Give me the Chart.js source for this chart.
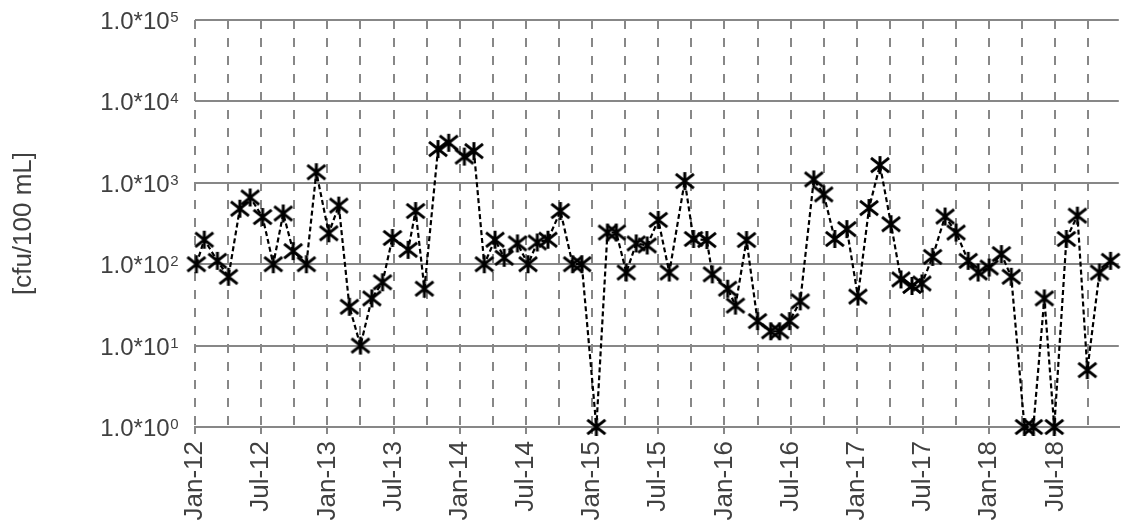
<!DOCTYPE html>
<html>
<head>
<meta charset="utf-8">
<title>Monthly bacterial counts 2012–2018</title>
<script src="https://cdn.jsdelivr.net/npm/chart.js@4/dist/chart.umd.min.js"></script>
<style>
  html, body { margin: 0; padding: 0; background: #ffffff; }
  #wrap { width: 1131px; height: 528px; position: relative; overflow: hidden; }
</style>
</head>
<body>
<div id="wrap"><canvas id="chart"></canvas></div>
<script>
// Sampling dates (ISO) and measured counts in cfu/100 mL
const sampleDates = [
  '2012-01-05','2012-01-27','2012-03-02','2012-04-02','2012-05-03','2012-06-01',
  '2012-07-05','2012-08-04','2012-09-01','2012-09-28','2012-11-04','2012-12-01',
  '2013-01-05','2013-02-02','2013-03-01','2013-04-01','2013-05-02','2013-06-01',
  '2013-06-28','2013-08-11','2013-09-01','2013-09-25','2013-11-02','2013-12-01',
  '2014-01-14','2014-02-09','2014-03-08','2014-04-07','2014-05-02','2014-06-08',
  '2014-07-07','2014-08-02','2014-09-01','2014-10-05','2014-11-08','2014-12-03',
  '2015-01-13','2015-02-12','2015-03-07','2015-04-04','2015-05-01','2015-06-01',
  '2015-07-01','2015-08-01','2015-09-13','2015-10-07','2015-11-13','2015-11-28',
  '2016-01-10','2016-02-01','2016-03-01','2016-04-01','2016-05-07','2016-06-01',
  '2016-06-28','2016-07-28','2016-09-04','2016-10-01','2016-11-01','2016-12-04',
  '2017-01-04','2017-02-04','2017-03-04','2017-04-04','2017-05-01','2017-06-01',
  '2017-06-28','2017-07-28','2017-09-01','2017-10-01','2017-11-04','2017-12-01',
  '2018-01-01','2018-02-04','2018-03-01','2018-04-07','2018-05-01','2018-06-01',
  '2018-06-28','2018-08-01','2018-09-01','2018-09-28','2018-11-01','2018-12-01'
];
const cfuPer100mL = [
  100, 200, 110, 70, 480, 660,
  380, 100, 420, 145, 100, 1350,
  240, 525, 30, 10, 38, 60,
  210, 150, 450, 50, 2600, 3100,
  2100, 2450, 100, 200, 120, 180,
  100, 185, 200, 450, 100, 100,
  1, 245, 245, 79, 180, 170,
  350, 79, 1050, 204, 198, 75,
  50, 31, 198, 20, 15, 15,
  20, 35, 1100, 720, 204, 270,
  40, 490, 1650, 310, 65, 54,
  58, 123, 385, 245, 110, 79,
  91, 133, 70, 1, 1, 38,
  1, 204, 395, 5, 79, 110
];
const monthNames = ['Jan','Feb','Mar','Apr','May','Jun','Jul','Aug','Sep','Oct','Nov','Dec'];
const firstYear = 2012;
const yTickExponents = [0, 1, 2, 3, 4, 5];
const yAxisTitle = '[cfu/100 mL]';

const TEXT = '#404040';
const GRID = '#878787';
const FONT = '"Liberation Sans", Arial, sans-serif';

// position of a date as months elapsed since Jan of the first year
function monthIndex(iso) {
  const [y, m, d] = iso.split('-').map(Number);
  const daysInMonth = new Date(y, m, 0).getDate();
  return (y - firstYear) * 12 + (m - 1) + (d - 1) / daysInMonth;
}

const points = sampleDates.map((d, i) => ({ x: monthIndex(d), y: cfuPer100mL[i] }));

// asterisk marker: an X crossed by a vertical bar
function asteriskMarker(size, lw) {
  const pad = 2;
  const c = document.createElement('canvas');
  c.width = c.height = size + pad * 2;
  const g = c.getContext('2d');
  const m = c.width / 2, r = size / 2;
  g.strokeStyle = '#000';
  g.lineWidth = lw;
  g.beginPath();
  g.moveTo(m - r, m - r * 0.8); g.lineTo(m + r, m + r * 0.8);
  g.moveTo(m + r, m - r * 0.8); g.lineTo(m - r, m + r * 0.8);
  g.moveTo(m, m - r); g.lineTo(m, m + r);
  g.stroke();
  return c;
}
const marker = asteriskMarker(18, 3);

// "1.0*10^n" labels with a raised exponent
const powerLabels = {
  id: 'powerLabels',
  afterDraw(chart) {
    const s = chart.scales.y;
    const ctx = chart.ctx;
    const right = s.right - 17;
    ctx.save();
    ctx.fillStyle = TEXT;
    ctx.textBaseline = 'alphabetic';
    ctx.textAlign = 'left';
    s.ticks.forEach(t => {
      const y = s.getPixelForValue(t.value);
      const base = '1.0*10';
      const exp = String(Math.round(Math.log10(t.value)));
      ctx.font = '24px ' + FONT;
      const w1 = ctx.measureText(base).width;
      ctx.font = '15px ' + FONT;
      const w2 = ctx.measureText(exp).width;
      const x0 = right - w1 - w2;
      ctx.font = '24px ' + FONT;
      ctx.fillText(base, x0, y + 9);
      ctx.font = '15px ' + FONT;
      ctx.fillText(exp, x0 + w1 + 0.5, y + 2);
    });
    ctx.restore();
  }
};

const xMax = 83.75;

new Chart(document.getElementById('chart'), {
  type: 'line',
  data: {
    datasets: [{
      data: points,
      borderColor: '#000000',
      borderWidth: 2.2,
      borderDash: [5, 3],
      tension: 0,
      fill: false,
      pointStyle: marker,
      pointRadius: 10,
      pointHoverRadius: 10,
      clip: false
    }]
  },
  options: {
    responsive: true,
    maintainAspectRatio: false,
    animation: false,
    events: [],
    layout: { padding: { top: 20, left: 0, right: 0, bottom: 0 } },
    plugins: { legend: { display: false }, tooltip: { enabled: false } },
    scales: {
      x: {
        type: 'linear',
        min: 0,
        max: xMax,
        afterBuildTicks(scale) {
          const t = [];
          for (let v = 0; v <= xMax; v += 3) t.push({ value: v });
          scale.ticks = t;
        },
        afterFit(scale) {
          scale.height = 101;
          scale.paddingLeft = 0;
          scale.paddingRight = 0;
        },
        grid: {
          color: GRID,
          lineWidth: 2,
          drawTicks: true,
          tickLength: 7,
          tickWidth: 2,
          tickColor: (c) => (c.tick && c.tick.value % 6 === 0) ? GRID : 'rgba(0,0,0,0)'
        },
        border: { display: true, color: GRID, width: 2, dash: [9, 9] },
        ticks: {
          autoSkip: false,
          maxRotation: 90,
          minRotation: 90,
          padding: 7,
          color: TEXT,
          font: { family: FONT, size: 26 },
          callback: (v) => {
            if (v % 6 !== 0) return '';
            const yr = firstYear + Math.floor(v / 12);
            return monthNames[v % 12] + '-' + String(yr).slice(2);
          }
        }
      },
      y: {
        type: 'logarithmic',
        min: Math.pow(10, yTickExponents[0]),
        max: Math.pow(10, yTickExponents[yTickExponents.length - 1]),
        afterBuildTicks(scale) {
          scale.ticks = yTickExponents.map(e => ({ value: Math.pow(10, e) }));
        },
        afterFit(scale) { scale.width = 195; },
        grid: { color: GRID, lineWidth: 2, drawTicks: false },
        border: { display: false },
        ticks: { display: false },
        title: {
          display: true,
          text: yAxisTitle,
          color: TEXT,
          font: { family: FONT, size: 26 },
          padding: { top: 8, bottom: 0 }
        }
      }
    }
  },
  plugins: [powerLabels]
});
</script>
</body>
</html>
